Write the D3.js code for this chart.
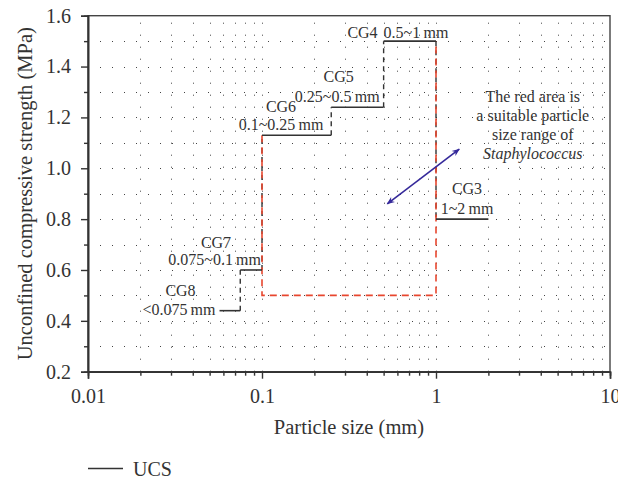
<!DOCTYPE html>
<html>
<head>
<meta charset="utf-8">
<script src="https://cdn.jsdelivr.net/npm/d3@7/dist/d3.min.js"></script>
<style>
html,body{margin:0;padding:0;background:#fff;}
svg{display:block;}
text{font-family:"Liberation Serif","DejaVu Serif",serif;fill:#333;}
</style>
</head>
<body>
<svg id="chart" width="618" height="479"></svg>
<script>
// ---- data ----
const categories = ["CG8", "CG7", "CG6", "CG5", "CG4", "CG3"];
const rangeLabels = ["<0.075\u2009mm", "0.075~0.1\u2009mm", "0.1~0.25\u2009mm", "0.25~0.5\u2009mm", "0.5~1\u2009mm", "1~2\u2009mm"];
const sizeMin = [0.057, 0.075, 0.1, 0.25, 0.5, 1];
const sizeMax = [0.075, 0.1, 0.25, 0.5, 1, 2];
const ucs = [0.44, 0.60, 1.13, 1.24, 1.50, 0.80];
const suitableRange = [0.1, 1];     // particle size (mm)
const suitableFloor = 0.5;          // MPa
const xTicks = [0.01, 0.1, 1, 10];
const yTicks = [0.2, 0.4, 0.6, 0.8, 1.0, 1.2, 1.4, 1.6];
const noteLines = ["The red area is", "a suitable particle", "size range of", "Staphylococcus"];
const notePos = [3.6, 1.262];
const arrowFrom = [0.525, 0.86];
const arrowTo = [1.36, 1.075];

// ---- layout ----
const W = 618, H = 479;
const m = {l: 88, r: 8, t: 15.7, b: 107.3};
const svg = d3.select("#chart");
const x = d3.scaleLog().domain([0.01, 10]).range([m.l, W - m.r]);
const y = d3.scaleLinear().domain([0.2, 1.6]).range([H - m.b, m.t]);

const xMinor = [];
[0.01, 0.1, 1].forEach(b => { for (let k = 2; k <= 9; k++) xMinor.push(b * k); });
const yMinor = d3.range(3, 16, 2).map(v => v / 10);
const yAll = d3.range(3, 16).map(v => v / 10);

// grid (dotted)
const grid = svg.append("g").attr("stroke", "#444").attr("stroke-width", 1).attr("stroke-dasharray", "1,11");
grid.selectAll(".gx").data(xMinor.concat([0.1, 1])).join("line")
  .attr("x1", d => Math.round(x(d)) + 0.5).attr("x2", d => Math.round(x(d)) + 0.5)
  .attr("y1", y(0.2)).attr("y2", y(1.6));
grid.selectAll(".gy").data(yAll).join("line")
  .attr("y1", d => Math.round(y(d)) + 0.5).attr("y2", d => Math.round(y(d)) + 0.5)
  .attr("x1", x(0.01)).attr("x2", x(10));

// frame
svg.append("rect").attr("x", x(0.01)).attr("y", y(1.6))
  .attr("width", x(10) - x(0.01)).attr("height", y(0.2) - y(1.6))
  .attr("fill", "none").attr("stroke", "#444").attr("stroke-width", 1.4);

// axes
const fmtX = d => d3.format("")(d);
const ax = svg.append("g").attr("transform", `translate(0,${y(0.2)})`)
  .call(d3.axisBottom(x).tickValues(xTicks).tickFormat(fmtX).tickSize(7).tickPadding(10));
svg.append("g").attr("transform", `translate(0,${y(0.2)})`)
  .call(d3.axisBottom(x).tickValues(xMinor).tickFormat("").tickSize(4));
const ay = svg.append("g").attr("transform", `translate(${x(0.01)},0)`)
  .call(d3.axisLeft(y).tickValues(yTicks).tickFormat(d3.format(".1f")).tickSize(7).tickPadding(10));
svg.append("g").attr("transform", `translate(${x(0.01)},0)`)
  .call(d3.axisLeft(y).tickValues(yMinor).tickFormat("").tickSize(4));
svg.selectAll(".domain").attr("stroke", "#333").attr("stroke-width", 1.6);
svg.selectAll(".tick line").attr("stroke", "#333").attr("stroke-width", 1.4);
svg.selectAll(".tick text").attr("font-family", '"Liberation Serif",serif').attr("font-size", 20).attr("fill", "#333");

// axis titles
svg.append("text").attr("x", (x(0.01) + x(10)) / 2).attr("y", 434)
  .attr("text-anchor", "middle").attr("font-size", 20.5).text("Particle size (mm)");
svg.append("text").attr("transform", `translate(32,${(y(0.2) + y(1.6)) / 2}) rotate(-90)`)
  .attr("text-anchor", "middle").attr("font-size", 20.5).text("Unconfined compressive strength (MPa)");

// dashed connectors between steps
const conn = svg.append("g").attr("stroke", "#333").attr("stroke-width", 1.4).attr("stroke-dasharray", "5,4").attr("fill", "none");
for (let i = 0; i < ucs.length - 1; i++) {
  conn.append("line").attr("x1", x(sizeMax[i])).attr("x2", x(sizeMax[i]))
    .attr("y1", y(ucs[i])).attr("y2", y(ucs[i + 1]));
}

// red dashed suitable region
const iLeft = sizeMin.indexOf(suitableRange[0]);
const iRight = sizeMax.indexOf(suitableRange[1]);
const redPts = [
  [suitableRange[0], ucs[iLeft]],
  [suitableRange[0], suitableFloor],
  [suitableRange[1], suitableFloor],
  [suitableRange[1], ucs[iRight]]
];
svg.append("path").attr("d", d3.line().x(d => x(d[0])).y(d => y(d[1]))(redPts))
  .attr("fill", "none").attr("stroke", "#e8462e").attr("stroke-width", 1.6).attr("stroke-dasharray", "7,5");

// solid step segments
svg.append("g").selectAll("line").data(ucs).join("line")
  .attr("x1", (d, i) => x(sizeMin[i])).attr("x2", (d, i) => x(sizeMax[i]))
  .attr("y1", d => y(d)).attr("y2", d => y(d))
  .attr("stroke", "#333").attr("stroke-width", 1.6);

// labels: [nameAnchor, nameX, nameDy, rangeAnchor, rangeX, rangeDy]
const lay = [
  ["middle", i => x(sizeMin[i]) - 39, -15, "end", i => x(sizeMin[i]) - 4, 4.5],
  ["middle", i => x(sizeMax[i]) - 46, -21.5, "end", i => x(sizeMax[i]) - 1, -5],
  ["middle", i => x(sizeMin[i]) + 19, -23.5, "middle", i => x(sizeMin[i]) + 19, -5],
  ["middle", i => x(sizeMax[i]) - 45, -25, "end", i => x(sizeMax[i]) - 4, -5.5],
  ["end", i => x(sizeMin[i]) - 6, -3, "start", i => x(sizeMin[i]) + 0, -3],
  ["middle", i => x(sizeMin[i]) + 31, -25, "middle", i => x(sizeMin[i]) + 31, -5]
];
const lab = svg.append("g").attr("font-size", 16);
categories.forEach((c, i) => {
  const L = lay[i];
  lab.append("text").attr("text-anchor", L[0]).attr("x", L[1](i)).attr("y", y(ucs[i]) + L[2]).text(c);
  lab.append("text").attr("text-anchor", L[3]).attr("x", L[4](i)).attr("y", y(ucs[i]) + L[5]).text(rangeLabels[i]);
});

// note
const note = svg.append("g").attr("font-size", 16);
noteLines.forEach((t, i) => {
  note.append("text").attr("text-anchor", "middle")
    .attr("x", x(notePos[0])).attr("y", y(notePos[1]) + i * 19.2)
    .attr("font-style", i === noteLines.length - 1 ? "italic" : "normal").text(t);
});

// double arrow
const defs = svg.append("defs");
defs.append("marker").attr("id", "ah").attr("viewBox", "0 0 10 10").attr("refX", 9).attr("refY", 5)
  .attr("markerWidth", 12).attr("markerHeight", 8).attr("orient", "auto-start-reverse").attr("markerUnits", "userSpaceOnUse")
  .append("path").attr("d", "M0,1 L10,5 L0,9 L3,5 Z").attr("fill", "#35299a");
svg.append("line").attr("x1", x(arrowFrom[0])).attr("y1", y(arrowFrom[1]))
  .attr("x2", x(arrowTo[0])).attr("y2", y(arrowTo[1]))
  .attr("stroke", "#35299a").attr("stroke-width", 1.6)
  .attr("marker-start", "url(#ah)").attr("marker-end", "url(#ah)");

// legend
svg.append("line").attr("x1", 88).attr("x2", 123).attr("y1", 468.5).attr("y2", 468.5)
  .attr("stroke", "#333").attr("stroke-width", 1.6);
svg.append("text").attr("x", 133).attr("y", 475.5).attr("font-size", 20).text("UCS");
</script>
</body>
</html>
